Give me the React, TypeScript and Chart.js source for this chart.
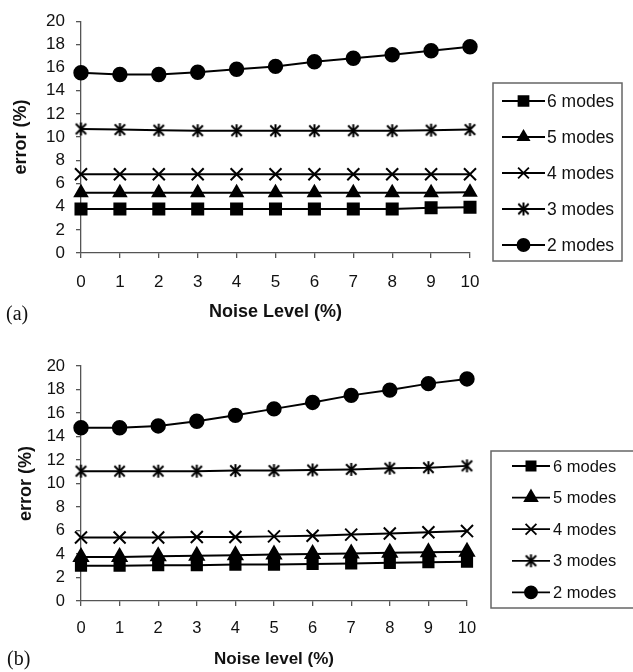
import React, { useEffect, useRef } from 'react';
import { Chart, registerables } from 'chart.js';
import { drawPoint } from 'chart.js/helpers';

Chart.register(...registerables);

// ---------- data ----------
const noiseLevels = ['0', '1', '2', '3', '4', '5', '6', '7', '8', '9', '10'];
const seriesLabels = ['6 modes', '5 modes', '4 modes', '3 modes', '2 modes'];

// panel (a)
const a6modes = [3.8, 3.8, 3.8, 3.8, 3.8, 3.8, 3.8, 3.8, 3.8, 3.9, 3.95];
const a5modes = [5.2, 5.2, 5.2, 5.2, 5.2, 5.2, 5.2, 5.2, 5.2, 5.2, 5.25];
const a4modes = [6.8, 6.8, 6.8, 6.8, 6.8, 6.8, 6.8, 6.8, 6.8, 6.8, 6.8];
const a3modes = [10.7, 10.65, 10.6, 10.55, 10.55, 10.55, 10.55, 10.55, 10.55, 10.6, 10.65];
const a2modes = [15.55, 15.4, 15.4, 15.6, 15.85, 16.1, 16.5, 16.8, 17.1, 17.45, 17.8];

// panel (b)
const b6modes = [3.0, 3.0, 3.05, 3.05, 3.1, 3.1, 3.15, 3.2, 3.25, 3.3, 3.35];
const b5modes = [3.75, 3.75, 3.8, 3.85, 3.9, 3.95, 4.0, 4.05, 4.1, 4.15, 4.2];
const b4modes = [5.4, 5.4, 5.4, 5.45, 5.45, 5.5, 5.55, 5.65, 5.75, 5.85, 5.95];
const b3modes = [11.05, 11.05, 11.05, 11.05, 11.1, 11.1, 11.15, 11.2, 11.3, 11.35, 11.5];
const b2modes = [14.75, 14.75, 14.9, 15.3, 15.8, 16.35, 16.9, 17.5, 17.95, 18.5, 18.9];

const yMin = 0;
const yMax = 20;
const yStep = 2;

const xTitleA = 'Noise Level (%)';
const xTitleB = 'Noise level (%)';
const yTitle = 'error (%)';

// ---------- styling helpers ----------
const SANS = '"Liberation Sans", Arial, sans-serif';
const INK = '#111';
const AXIS = '#555';

function makeStar(size: number, lw: number): HTMLCanvasElement {
  const c = document.createElement('canvas');
  c.width = size;
  c.height = size;
  const g = c.getContext('2d')!;
  g.strokeStyle = '#000';
  g.lineWidth = lw;
  const m = size / 2;
  const r = size / 2 - 1;
  const d = r * 0.8;
  g.beginPath();
  g.moveTo(m - d, m - d);
  g.lineTo(m + d, m + d);
  g.moveTo(m + d, m - d);
  g.lineTo(m - d, m + d);
  g.moveTo(m, m - r);
  g.lineTo(m, m + r);
  g.stroke();
  return c;
}

const boxLegend = {
  id: 'boxLegend',
  afterDraw(chart: any, _args: any, opts: any) {
    const { ctx } = chart;
    ctx.save();
    ctx.strokeStyle = '#666';
    ctx.lineWidth = 1.5;
    ctx.strokeRect(opts.x, opts.y, opts.w, opts.h);
    chart.data.datasets.forEach((ds: any, i: number) => {
      const cy = opts.firstY + i * opts.gap;
      ctx.strokeStyle = '#000';
      ctx.lineWidth = 1.8;
      ctx.beginPath();
      ctx.moveTo(opts.lineX0, cy);
      ctx.lineTo(opts.lineX1, cy);
      ctx.stroke();
      ctx.fillStyle = '#000';
      ctx.strokeStyle = '#000';
      drawPoint(
        ctx,
        { pointStyle: ds.pointStyle, radius: ds.pointRadius * 0.9, rotation: 0, borderWidth: 2 } as any,
        (opts.lineX0 + opts.lineX1) / 2,
        cy
      );
      ctx.fillStyle = INK;
      ctx.font = `${opts.fontSize}px ${SANS}`;
      ctx.textBaseline = 'middle';
      ctx.textAlign = 'left';
      ctx.fillText(ds.label, opts.textX, cy + 1);
    });
    ctx.restore();
  },
};

type PanelSpec = {
  height: number;
  series: number[][];
  xTitle: string;
  padTop: number;
  padRight: number;
  xScaleHeight: number;
  tickFont: number;
  xTitleFont: number;
  xTitlePadBottom: number;
  yTitlePadTop: number;
  xTickPadding: number;
  radii: number[];
  legend: any;
};

function Panel({ spec }: { spec: PanelSpec }) {
  const ref = useRef<HTMLCanvasElement | null>(null);
  useEffect(() => {
    const canvas = ref.current!;
    const star = makeStar(15, 2);
    const styles: any[] = ['rect', 'triangle', 'crossRot', star, 'circle'];
    const chart = new Chart(canvas, {
      type: 'line',
      data: {
        labels: noiseLevels,
        datasets: seriesLabels.map((label, i) => ({
          label,
          data: spec.series[i],
          borderColor: '#000',
          backgroundColor: '#000',
          borderWidth: 2,
          pointStyle: styles[i],
          pointRadius: spec.radii[i],
          pointBorderWidth: 2,
          pointBackgroundColor: '#000',
          pointBorderColor: '#000',
          tension: 0,
          clip: false as any,
        })),
      },
      plugins: [boxLegend],
      options: {
        responsive: false,
        animation: false,
        devicePixelRatio: 1,
        layout: { padding: { left: 0, top: spec.padTop, right: spec.padRight, bottom: 0 } },
        plugins: {
          legend: { display: false },
          tooltip: { enabled: false },
          boxLegend: spec.legend,
        } as any,
        scales: {
          x: {
            type: 'category',
            offset: false,
            grid: {
              display: true,
              drawOnChartArea: false,
              drawTicks: true,
              tickLength: 5,
              color: AXIS,
              lineWidth: 1.3,
            },
            border: { display: true, color: AXIS, width: 1.3 },
            ticks: {
              color: INK,
              font: { family: SANS, size: spec.tickFont },
              padding: spec.xTickPadding,
              maxRotation: 0,
              autoSkip: false,
            },
            title: {
              display: true,
              text: spec.xTitle,
              color: INK,
              font: { family: SANS, size: spec.xTitleFont, weight: 'bold' },
              padding: { top: 0, bottom: spec.xTitlePadBottom },
            },
            afterFit: (s: any) => {
              s.height = spec.xScaleHeight;
            },
          },
          y: {
            min: yMin,
            max: yMax,
            grid: {
              display: true,
              drawOnChartArea: false,
              drawTicks: true,
              tickLength: 5,
              color: AXIS,
              lineWidth: 1.3,
            },
            border: { display: true, color: AXIS, width: 1.3 },
            ticks: {
              stepSize: yStep,
              autoSkip: false,
              color: INK,
              font: { family: SANS, size: spec.tickFont },
              padding: 11,
            },
            title: {
              display: true,
              text: yTitle,
              color: INK,
              font: { family: SANS, size: 18, weight: 'bold' },
              padding: { top: spec.yTitlePadTop, bottom: 0 },
            },
            afterFit: (s: any) => {
              s.width = 81;
            },
          },
        },
      } as any,
    });
    return () => chart.destroy();
  }, [spec]);
  return <canvas ref={ref} width={633} height={spec.height} style={{ display: 'block', width: 633, height: spec.height }} />;
}

const specA: PanelSpec = {
  height: 330,
  series: [a6modes, a5modes, a4modes, a3modes, a2modes],
  xTitle: xTitleA,
  padTop: 16,
  padRight: 163,
  xScaleHeight: 77,
  tickFont: 17,
  xTitleFont: 18,
  xTitlePadBottom: 7,
  yTitlePadTop: 10,
  xTickPadding: 14,
  radii: [7.8, 7, 8.5, 7, 6.7],
  legend: {
    x: 493, y: 83, w: 129, h: 178,
    firstY: 101, gap: 36,
    lineX0: 502, lineX1: 545, textX: 547, fontSize: 17.5,
  },
};

const specB: PanelSpec = {
  height: 342,
  series: [b6modes, b5modes, b4modes, b3modes, b2modes],
  xTitle: xTitleB,
  padTop: 36,
  padRight: 166,
  xScaleHeight: 71,
  tickFont: 16.5,
  xTitleFont: 17,
  xTitlePadBottom: 2,
  yTitlePadTop: 15,
  xTickPadding: 13,
  radii: [7.2, 8, 8.5, 7, 6.7],
  legend: {
    x: 491, y: 121, w: 145, h: 157,
    firstY: 136, gap: 31.6,
    lineX0: 512, lineX1: 550, textX: 553, fontSize: 16.5,
  },
};

export default function App() {
  const label: React.CSSProperties = {
    position: 'absolute',
    fontFamily: '"Liberation Serif", "Times New Roman", serif',
    fontSize: 20,
    lineHeight: '20px',
    color: INK,
  };
  return (
    <div style={{ position: 'absolute', left: 0, top: 0, width: 633, height: 672, overflow: 'hidden', background: '#fff' }}>
      <div style={{ position: 'absolute', left: 0, top: 0 }}>
        <Panel spec={specA} />
      </div>
      <div style={{ position: 'absolute', left: 0, top: 330 }}>
        <Panel spec={specB} />
      </div>
      <div style={{ ...label, left: 6, top: 303 }}>(a)</div>
      <div style={{ ...label, left: 7, top: 648 }}>(b)</div>
    </div>
  );
}
